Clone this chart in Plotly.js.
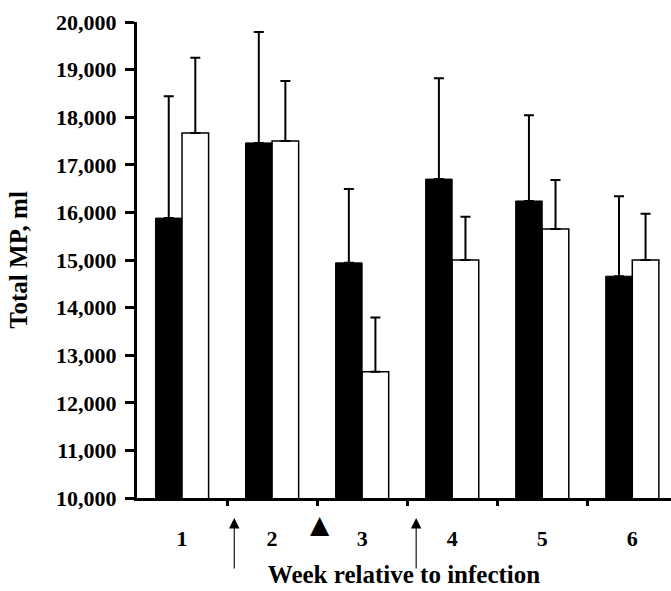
<!DOCTYPE html>
<html>
<head>
<meta charset="utf-8">
<script src="https://cdn.plot.ly/plotly-3.0.1.min.js"></script>
<style>html,body{margin:0;padding:0;background:#fff;}</style>
</head>
<body>
<div id="chart" style="width:671px;height:591px;"></div>
<script>
// Data
var weeks = ['1', '2', '3', '4', '5', '6'];
var blackValues = [15880, 17460, 14940, 16700, 16240, 14660];
var blackErrors = [2560, 2330, 1550, 2120, 1800, 1680];
var whiteValues = [17670, 17500, 12650, 15000, 15650, 15000];
var whiteErrors = [1580, 1260, 1140, 910, 1030, 970];
var yTickValues = [10000, 11000, 12000, 13000, 14000, 15000, 16000, 17000, 18000, 19000, 20000];
// Event markers between weeks (position in week-index units, 0 = week 1)
var arrowWeeks = [0.58, 2.6];
var triangleWeeks = [1.53];

var idx = weeks.map(function (w, i) { return i; });
var boundaries = weeks.slice(1).map(function (w, i) { return i + 0.5; });
var fam = '"Liberation Serif", "Times New Roman", serif';
var font = {family: fam, color: '#000', weight: 'bold'};
function bold(s) { return '<b>' + s + '</b>'; }
function fmt(v) { return String(v).replace(/\B(?=(\d{3})+(?!\d))/g, ','); }

var traces = [
  {
    type: 'bar', x: idx, y: blackValues,
    marker: {color: '#000', line: {color: '#000', width: 1}},
    error_y: {type: 'data', symmetric: false, array: blackErrors, arrayminus: blackErrors.map(function(){return 0;}),
      color: '#000', thickness: 2, width: 5},
    showlegend: false, hoverinfo: 'skip'
  },
  {
    type: 'bar', x: idx, y: whiteValues,
    marker: {color: '#fff', line: {color: '#000', width: 1.5}},
    error_y: {type: 'data', symmetric: false, array: whiteErrors, arrayminus: whiteErrors.map(function(){return 0;}),
      color: '#000', thickness: 2, width: 5},
    showlegend: false, hoverinfo: 'skip'
  }
];

var annotations = [];
arrowWeeks.forEach(function (w) {
  annotations.push({
    x: w, y: 0.0, xref: 'x', yref: 'paper', yshift: -20,
    text: '', showarrow: true, ax: 0, ay: 52, axref: 'pixel', ayref: 'pixel',
    arrowhead: 2, arrowsize: 1.9, arrowwidth: 1.1, arrowcolor: '#000', standoff: 0
  });
});
triangleWeeks.forEach(function (w) {
  annotations.push({
    x: w, y: 0, xref: 'x', yref: 'paper', yshift: -43,
    text: '▲', showarrow: false,
    font: {family: 'DejaVu Sans', size: 25, color: '#000'}
  });
});

var layout = {
  width: 671, height: 591,
  margin: {l: 137, r: 0, t: 22, b: 93, pad: 0},
  paper_bgcolor: '#fff', plot_bgcolor: '#fff',
  barmode: 'group', bargap: 0.41, bargroupgap: 0,
  showlegend: false,
  font: font,
  xaxis: {
    type: 'linear', range: [-0.5, 5.43],
    tickvals: idx, ticktext: weeks.map(bold),
    showline: true, linecolor: '#000', linewidth: 3,
    ticks: '', ticklabelstandoff: 19,
    minor: {tickvals: boundaries, ticks: 'outside', ticklen: 5, tickwidth: 3, tickcolor: '#000', showgrid: false},
    tickfont: {family: fam, size: 22, color: '#000'},
    showgrid: false, zeroline: false,
    title: {text: bold('Week relative to infection'), font: {family: fam, size: 25, color: '#000'}, standoff: 16}
  },
  yaxis: {
    range: [10000, 20000], tickvals: yTickValues, ticktext: yTickValues.map(function (v) { return bold(fmt(v)); }),
    showline: true, linecolor: '#000', linewidth: 3,
    ticks: 'outside', ticklen: 9, tickwidth: 3, tickcolor: '#000',
    ticklabelstandoff: 4,
    tickfont: {family: fam, size: 22, color: '#000'},
    showgrid: false, zeroline: false,
    title: {text: bold('Total MP, ml'), font: {family: fam, size: 25, color: '#000'}, standoff: 22}
  },
  annotations: annotations
};

Plotly.newPlot('chart', traces, layout, {displayModeBar: false, staticPlot: true});
</script>
</body>
</html>
